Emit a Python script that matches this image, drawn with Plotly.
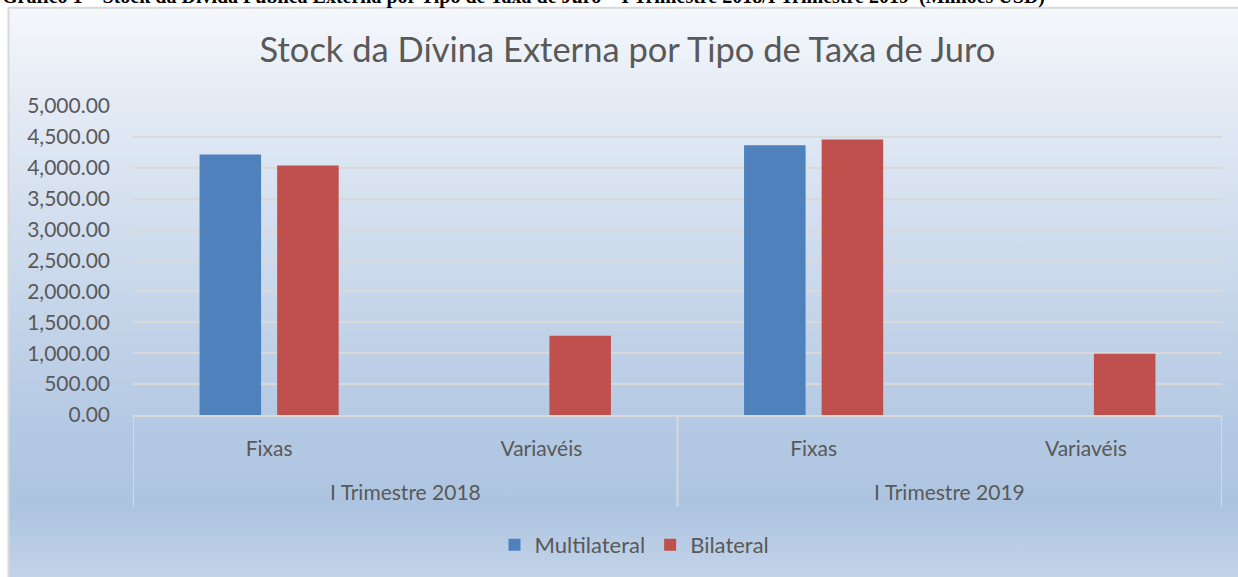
import base64
import plotly.graph_objects as go

# ---- data ----
periods = ["I Trimestre 2018", "I Trimestre 2018", "I Trimestre 2019", "I Trimestre 2019"]
rate_types = ["Fixas", "Variavéis", "Fixas", "Variavéis"]
multilateral = [4215, 0, 4366, 0]
bilateral = [4037, 1281, 4458, 993]
y_ticks = [0, 500, 1000, 1500, 2000, 2500, 3000, 3500, 4000, 4500, 5000]

W, H = 1238, 577
L, R, T, B = 133, 16, 106, 161
PW, PH = W - L - R, H - T - B


def px(x):
    return (x - L) / PW


def py(y):
    return (H - B - y) / PH


positions = list(range(len(rate_types)))
TXT = "#595959"
FONT = "Lato"

fig = go.Figure()
fig.add_trace(go.Bar(x=positions, y=multilateral, name="Multilateral",
                     marker=dict(color="#4f81bd", line=dict(width=0))))
fig.add_trace(go.Bar(x=positions, y=bilateral, name="Bilateral",
                     marker=dict(color="#c0504d", line=dict(width=0))))

# gradient background (svg)
svg = ('<svg xmlns="http://www.w3.org/2000/svg" width="100" height="100" viewBox="0 0 100 100" '
       'preserveAspectRatio="none"><defs><linearGradient id="g" x1="0" y1="0" x2="0" y2="1">'
       '<stop offset="0" stop-color="#f5f8fc"/>'
       '<stop offset="0.16" stop-color="#e4ebf5"/>'
       '<stop offset="0.72" stop-color="#b4c9e3"/>'
       '<stop offset="0.86" stop-color="#adc4e0"/>'
       '<stop offset="1" stop-color="#c6d6ea"/>'
       '</linearGradient></defs><rect x="0" y="0" width="100" height="100" fill="url(#g)"/></svg>')
src = "data:image/svg+xml;base64," + base64.b64encode(svg.encode()).decode()
fig.add_layout_image(dict(source=src, xref="paper", yref="paper", x=px(8.5), y=py(7.5),
                          sizex=px(1270) - px(8.5), sizey=py(7.5) - py(590),
                          xanchor="left", yanchor="top", sizing="stretch", layer="below"))

# frame
fig.add_shape(type="rect", xref="paper", yref="paper", x0=px(8.5), x1=px(1270), y0=py(7.5), y1=py(590),
              line=dict(color="#d9d9d9", width=2), fillcolor="rgba(0,0,0,0)", layer="below")

# group dividers and year labels
groups = []
for i, p in enumerate(periods):
    if not groups or groups[-1][0] != p:
        groups.append([p, i, i])
    else:
        groups[-1][2] = i
bounds = sorted({g[1] - 0.5 for g in groups} | {g[2] + 0.5 for g in groups})
for b in bounds:
    fig.add_shape(type="line", xref="x", yref="paper", x0=b, x1=b, y0=0, y1=py(508),
                  line=dict(color="#d9d9d9", width=2))
for p, a, b in groups:
    fig.add_annotation(x=(a + b) / 2, xref="x", y=py(493), yref="paper", text=p, showarrow=False,
                       font=dict(family=FONT, size=21, color=TXT), yanchor="middle")

# caption (clipped at top, as in the source page)
fig.add_annotation(x=px(0), xref="paper", xanchor="left", y=py(10), yref="paper", yanchor="bottom",
                   text="<b>Gráfico 1 – Stock da Dívida Pública Externa por Tipo de Taxa de Juro – I Trimestre 2018/I Trimestre 2019  (Milhões USD)</b>",
                   showarrow=False, font=dict(family="Liberation Serif", size=20, color="#000000"))

fig.update_layout(
    width=W, height=H,
    margin=dict(l=L, r=R, t=T, b=B, pad=0),
    paper_bgcolor="#ffffff", plot_bgcolor="rgba(0,0,0,0)",
    title=dict(text="Stock da Dívina Externa por Tipo de Taxa de Juro", x=627.5 / W, xanchor="center",
               y=1 - 50 / H, yanchor="middle", font=dict(family=FONT, size=34.5, color=TXT)),
    barmode="group", bargap=0.43, bargroupgap=0.207,
    showlegend=True,
    legend=dict(orientation="h", x=px(634.5), xanchor="center", y=py(545), yanchor="middle",
                itemwidth=30, font=dict(family=FONT, size=22, color=TXT), bgcolor="rgba(0,0,0,0)"),
    xaxis=dict(range=[-0.5, len(rate_types) - 0.5], tickvals=positions, ticktext=rate_types,
               showgrid=False, zeroline=False, showline=True, linecolor="#d9d9d9", linewidth=2,
               ticks="", ticklabelstandoff=14, tickfont=dict(family=FONT, size=21, color=TXT)),
    yaxis=dict(range=[0, 5000], tickvals=y_ticks, tickformat=",.2f", showgrid=True,
               gridcolor="#d9d9d9", gridwidth=1.5, zeroline=False, showline=False, ticks="",
               ticklabelstandoff=22, tickfont=dict(family=FONT, size=21, color=TXT)),
)

fig.write_html("out.html", config={"displayModeBar": False},
               post_script="document.body.style.margin='0';document.body.style.overflow='hidden';")
